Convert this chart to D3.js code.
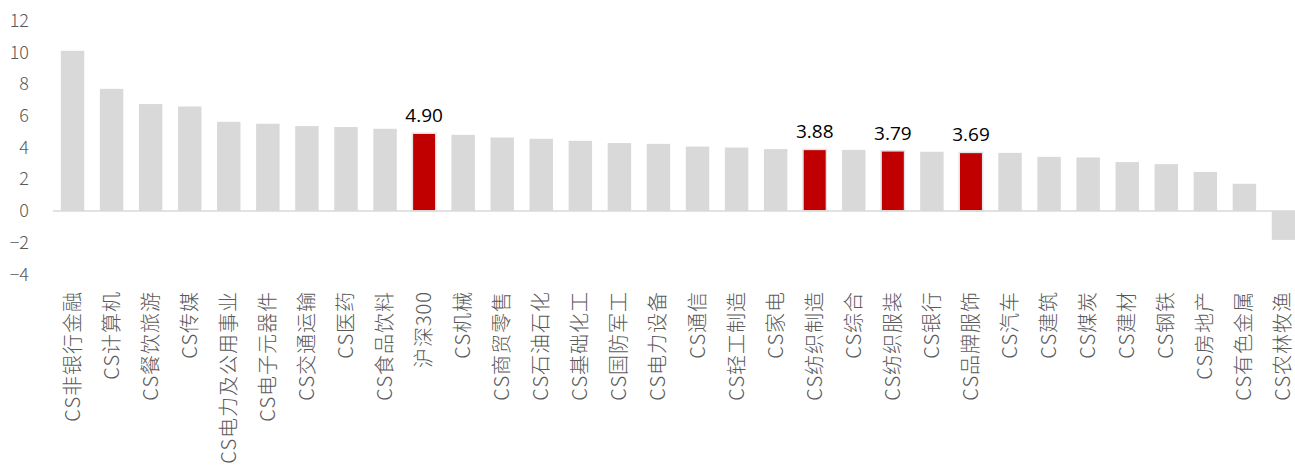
<!DOCTYPE html>
<html>
<head>
<meta charset="utf-8">
<script src="https://cdn.jsdelivr.net/npm/d3@7"></script>
<style>
  html, body { margin: 0; padding: 0; background: #fff; }
  svg { display: block; }
</style>
</head>
<body>
<div id="chart"></div>
<script>
const categories = ['CS非银行金融', 'CS计算机', 'CS餐饮旅游', 'CS传媒', 'CS电力及公用事业', 'CS电子元器件',
  'CS交通运输', 'CS医药', 'CS食品饮料', '沪深300', 'CS机械', 'CS商贸零售', 'CS石油石化', 'CS基础化工',
  'CS国防军工', 'CS电力设备', 'CS通信', 'CS轻工制造', 'CS家电', 'CS纺织制造', 'CS综合', 'CS纺织服装',
  'CS银行', 'CS品牌服饰', 'CS汽车', 'CS建筑', 'CS煤炭', 'CS建材', 'CS钢铁', 'CS房地产', 'CS有色金属', 'CS农林牧渔'];
const values = [10.10, 7.70, 6.74, 6.59, 5.62, 5.50, 5.35, 5.29, 5.18, 4.90, 4.80, 4.63, 4.55, 4.42,
  4.28, 4.23, 4.06, 4.00, 3.90, 3.88, 3.85, 3.79, 3.73, 3.69, 3.66, 3.41, 3.37, 3.08, 2.95, 2.46, 1.71, -1.83];
const highlighted = ['沪深300', 'CS纺织制造', 'CS纺织服装', 'CS品牌服饰'];
const yTicks = [-4, -2, 0, 2, 4, 6, 8, 10, 12];

const width = 1295, height = 469;
const data = categories.map((c, i) => ({ name: c, value: values[i] }));

const svg = d3.select('#chart').append('svg')
  .attr('width', width)
  .attr('height', height);

const x = d3.scaleBand()
  .domain(categories)
  .range([53, 1303])
  .paddingInner(0.4)
  .paddingOuter(0.2);

const y = d3.scaleLinear()
  .domain([-4, 12])
  .range([274.3, 20.7]);

// y tick labels (no axis line)
svg.append('g')
  .attr('transform', 'translate(29,0)')
  .call(d3.axisLeft(y).tickValues(yTicks).tickSize(0).tickPadding(0))
  .call(g => g.select('.domain').remove())
  .selectAll('text')
  .attr('fill', '#595959')
  .style('font-family', '"Noto Sans CJK SC", "Noto Sans", sans-serif')
  .style('font-size', '18px')
  .style('font-weight', 300);

// bars
svg.append('g').selectAll('rect')
  .data(data)
  .join('rect')
  .attr('x', d => x(d.name))
  .attr('width', x.bandwidth())
  .attr('y', d => y(Math.max(0, d.value)))
  .attr('height', d => Math.abs(y(d.value) - y(0)))
  .attr('fill', d => highlighted.includes(d.name) ? '#c00000' : '#d9d9d9')
  .attr('stroke', d => highlighted.includes(d.name) ? '#e4e4e4' : 'none')
  .attr('stroke-width', 1.5);

// zero line
svg.append('line')
  .attr('x1', 53).attr('x2', width)
  .attr('y1', y(0)).attr('y2', y(0))
  .attr('stroke', '#d9d9d9')
  .attr('stroke-width', 1.5);

// value labels for highlighted bars
svg.append('g').selectAll('text')
  .data(data.filter(d => highlighted.includes(d.name)))
  .join('text')
  .attr('x', d => x(d.name) + x.bandwidth() / 2)
  .attr('y', d => y(d.value) - 11)
  .attr('text-anchor', 'middle')
  .attr('fill', '#000')
  .style('font-family', '"Open Sans", Lato, sans-serif')
  .style('font-size', '19px')
  .text(d => d.value.toFixed(2));

// category labels, rotated
svg.append('g').selectAll('text')
  .data(categories)
  .join('text')
  .attr('transform', d => `translate(${x(d) + x.bandwidth() / 2 + 7},291) rotate(-90)`)
  .attr('text-anchor', 'end')
  .attr('fill', '#595959')
  .style('font-family', '"Noto Sans CJK SC", sans-serif')
  .style('font-size', '20px')
  .style('font-weight', 300)
  .style('letter-spacing', '1px')
  .text(d => d);
</script>
</body>
</html>
